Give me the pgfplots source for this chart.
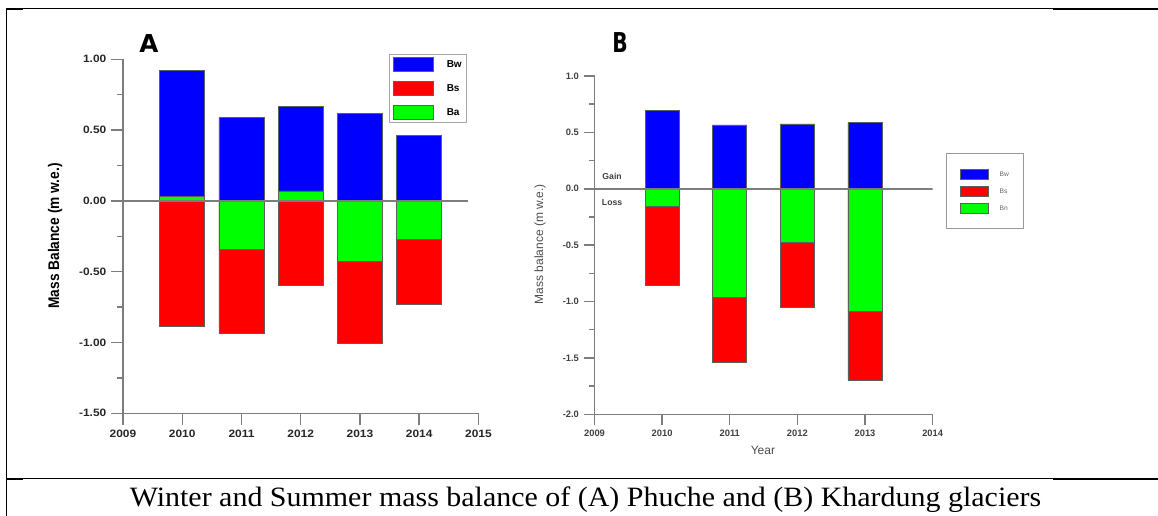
\documentclass[border=0pt]{standalone}
\usepackage{fontspec}
\setmainfont{Liberation Sans}
\newfontfamily\capfont{Liberation Serif}
\newfontfamily\heavyfont{DejaVu Sans}
\usepackage{graphicx}
\usepackage{pgfplots}
\pgfplotsset{compat=1.18}

\definecolor{bw}{RGB}{0,0,255}
\definecolor{bs}{RGB}{255,0,0}
\definecolor{bn}{RGB}{0,255,0}
\definecolor{axisgray}{RGB}{125,125,125}
\definecolor{edge}{RGB}{95,95,95}

% Phuche glacier: winter (Bw), summer (Bs) and annual (Ba) balance, m w.e.
\pgfplotstableread{
year Bw Bs Ba
2010 0.920 -0.888 0.032
2011 0.590 -0.935 -0.342
2012 0.665 -0.594 0.070
2013 0.619 -1.006 -0.430
2014 0.463 -0.728 -0.270
}\phuche

% Khardung glacier: winter (Bw), summer (Bs) and net (Bn) balance, m w.e.
\pgfplotstableread{
year Bw Bs Bn
2010 0.694 -0.854 -0.157
2011 0.567 -1.537 -0.963
2012 0.576 -1.055 -0.476
2013 0.588 -1.696 -1.088
}\khardung

\pgfplotsset{
  massbar/.style={ybar, bar shift=0pt, fill=#1, draw=edge, line width=0.5pt},
  swatchA/.style={legend image code/.code={%
      \draw[fill=#1,draw=edge,line width=0.5pt] (0pt,-5.25pt) rectangle (30pt,5.25pt);}},
  swatchB/.style={legend image code/.code={%
      \draw[fill=#1,draw=edge,line width=0.5pt] (0pt,-3.75pt) rectangle (21.5pt,3.75pt);}},
  massaxis/.style={
    scale only axis, anchor=south west,
    axis x line=bottom, axis y line=left,
    axis line style={-, axisgray, line width=1.1pt},
    tick align=outside,
    tick style={axisgray, line width=1.1pt},
    minor y tick num=1,
    legend cell align=left,
  },
}

\newcommand\wideA[1]{\scalebox{1.12}[1]{#1}}

\begin{document}
\begin{tikzpicture}
\useasboundingbox (0pt,0pt) rectangle (868.5pt,387pt);

% ---------- (A) Phuche ----------
\begin{axis}[massaxis,
  at={(92.25pt,77.03pt)}, width=266.6pt, height=265.5pt,
  xmin=2009, xmax=2015, ymin=-1.5, ymax=1.0,
  major tick length=9pt, minor tick length=4.5pt,
  xtick={2009,2010,2011,2012,2013,2014,2015},
  xticklabels={\wideA{2009},\wideA{2010},\wideA{2011},\wideA{2012},\wideA{2013},\wideA{2014},\wideA{2015}},
  ytick={-1.5,-1,-0.5,0,0.5,1},
  yticklabels={\wideA{-1.50},\wideA{-1.00},\wideA{-0.50},\wideA{0.00},\wideA{0.50},\wideA{1.00}},
  tick label style={font=\fontsize{8}{9}\selectfont\bfseries, text=black!85},
  ylabel={\scalebox{1}[1.12]{Mass Balance (m w.e.)}},
  ylabel style={font=\fontsize{10.3}{12}\selectfont\bfseries,
    at={(axis description cs:-0.191,0.501)}, anchor=center},
  legend style={at={(0.748,1.015)}, anchor=north west, draw=gray!70, line width=0.8pt,
    fill=white, inner xsep=2.5pt, inner ysep=2pt, row sep=7pt,
    font=\fontsize{7.5}{8}\selectfont\bfseries,
    nodes={inner sep=1pt, text depth=0pt},
    /tikz/every odd column/.append style={column sep=9pt}},
]
\addplot[massbar=bw, bar width=0.76, swatchA=bw] table[x=year, y=Bw] {\phuche};
\addlegendentry{Bw}
\addplot[massbar=bs, bar width=0.76, swatchA=bs] table[x=year, y=Bs] {\phuche};
\addlegendentry{Bs}
\addplot[massbar=bn, bar width=0.76, swatchA=bn] table[x=year, y=Ba] {\phuche};
\addlegendentry{Ba}
\addplot[axisgray, line width=1.1pt, forget plot] coordinates {(2009,0) (2014.83,0)};
\end{axis}

% ---------- (B) Khardung ----------
\begin{axis}[massaxis,
  at={(445.875pt,76.275pt)}, width=253.6pt, height=253.7pt,
  xmin=2009, xmax=2014, ymin=-2.0, ymax=1.0,
  major tick length=8.2pt, minor tick length=4pt,
  xtick={2009,2010,2011,2012,2013,2014},
  xticklabels={2009,2010,2011,2012,2013,2014},
  ytick={-2,-1.5,-1,-0.5,0,0.5,1},
  yticklabels={-2.0,-1.5,-1.0,-0.5,0.0,0.5,1.0},
  tick label style={font=\fontsize{7}{8}\selectfont\bfseries, text=black!75},
  xlabel={Year},
  xlabel style={font=\fontsize{9}{10}\selectfont, text=black!70,
    at={(axis description cs:0.498,-0.108)}, anchor=center},
  ylabel={Mass balance (m w.e.)},
  ylabel style={font=\fontsize{9}{10}\selectfont, text=black!70,
    at={(axis description cs:-0.161,0.503)}, anchor=center},
  legend style={at={(1.039,0.7715)}, anchor=north west, draw=gray!80, line width=0.8pt,
    fill=white, inner xsep=10pt, inner ysep=11pt, row sep=5pt,
    font=\fontsize{5}{6}\selectfont, text=black!60,
    nodes={inner sep=1pt, text depth=0pt},
    /tikz/every odd column/.append style={column sep=7pt}},
]
\addplot[massbar=bw, bar width=0.505, swatchB=bw] table[x=year, y=Bw] {\khardung};
\addlegendentry{Bw}
\addplot[massbar=bs, bar width=0.505, swatchB=bs] table[x=year, y=Bs] {\khardung};
\addlegendentry{Bs}
\addplot[massbar=bn, bar width=0.505, swatchB=bn] table[x=year, y=Bn] {\khardung};
\addlegendentry{Bn}
\addplot[axisgray, line width=1.1pt, forget plot] coordinates {(2009,0) (2014.02,0)};
\node[font=\fontsize{6.5}{7}\selectfont\bfseries, text=black!75] at (axis cs:2009.26,0.106) {Gain};
\node[font=\fontsize{6.5}{7}\selectfont\bfseries, text=black!75] at (axis cs:2009.26,-0.124) {Loss};
\end{axis}

\begin{scope}[x=0.75pt,y=0.75pt]
% panel letters
\node[font=\heavyfont\fontsize{18.5}{20}\selectfont\bfseries] at (149,472) {A};
\node[font=\heavyfont\fontsize{20.5}{22}\selectfont\bfseries] at (620,473) {\scalebox{0.74}[1]{B}};

% table rules around the figure
\draw[line width=0.75pt] (6.3,507.3) -- (1053,507.3);
\draw[line width=1.5pt] (6.3,506.8) -- (23.3,506.8);
\draw[line width=1.5pt] (1053,506.5) -- (1158,506.5);
\draw[line width=0.75pt] (6.3,507.3) -- (6.3,0);
\draw[line width=0.75pt] (6.3,37.3) -- (1053,37.3);
\draw[line width=1.5pt] (6.3,37) -- (23.3,37);
\draw[line width=1.5pt] (1053,37) -- (1158,37);

% caption
\node[anchor=base, font=\capfont\fontsize{21}{24}\selectfont] at (585.5,9.3)
  {\scalebox{1.07}[1]{Winter and Summer mass balance of (A) Phuche and (B) Khardung glaciers}};
\end{scope}
\end{tikzpicture}
\end{document}
